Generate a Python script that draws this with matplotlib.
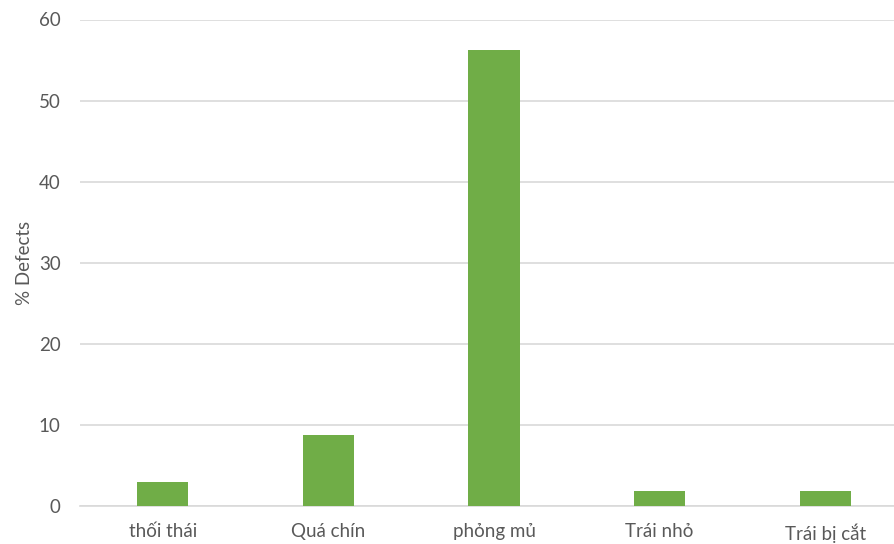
import numpy as np
import matplotlib
matplotlib.use("Agg")
import matplotlib.pyplot as plt

plt.rcParams['font.family'] = ['Lato', 'DejaVu Sans']

categories = ["thối thái", "Quá chín", "phỏng mủ", "Trái nhỏ", "Trái bị cắt"]
defects = [2.9, 8.8, 56.2, 1.8, 1.8]

fig = plt.figure(figsize=(8.94, 5.44), dpi=100)
# plot area runs a little past the right edge of the image, as in the source
ax = fig.add_axes([80 / 894, 38 / 544, 828 / 894, 486.5 / 544])

x = np.arange(len(categories))
ax.bar(x, defects, width=0.31, color='#70AD47', zorder=3)

ax.set_xlim(-0.5, len(categories) - 0.5)
ax.set_ylim(0, 60)
ax.set_yticks(np.arange(0, 61, 10))
ax.set_xticks(x)
ax.set_xticklabels(categories)

ax.grid(axis='y', color='#D9D9D9', linewidth=1.2, zorder=0)
for s in ['top', 'right', 'left']:
    ax.spines[s].set_visible(False)
ax.spines['bottom'].set_color('#D9D9D9')
ax.spines['bottom'].set_linewidth(1.2)

ax.tick_params(axis='both', length=0, labelsize=13.5, labelcolor='#595959')
ax.tick_params(axis='y', pad=14)
ax.tick_params(axis='x', pad=12.5)
ax.set_ylabel('% Defects', fontsize=13.5, color='#595959', labelpad=4)

fig.savefig('out.png', dpi=100)
